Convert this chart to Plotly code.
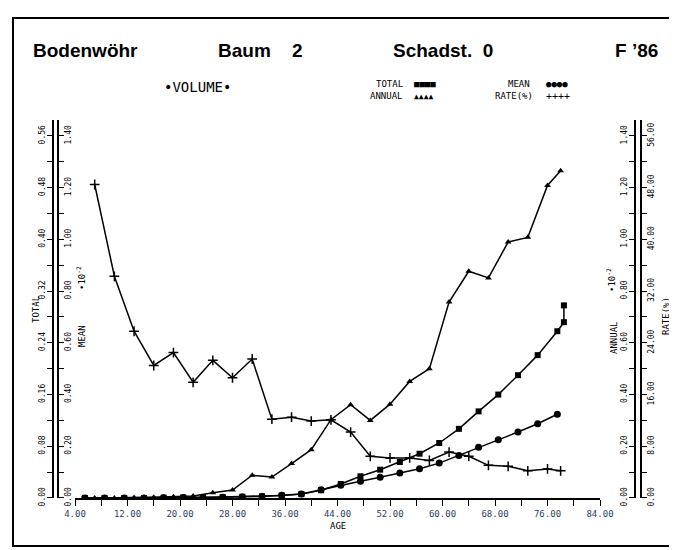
import plotly.graph_objects as go

# ages of the increment series (annual, rate) and of the stock series (total, mean)
age_incr = [7, 10, 13, 16, 19, 22, 25, 28, 31, 34, 37, 40, 43, 46, 49, 52, 55, 58,
            61, 64, 67, 70, 73, 76, 78]
age_stock = [5.5, 8.5, 11.5, 14.5, 17.5, 20.5, 23.5, 26.5, 29.5, 32.5, 35.5, 38.5,
             41.5, 44.5, 47.5, 50.5, 53.5, 56.5, 59.5, 62.5, 65.5, 68.5, 71.5, 74.5, 77.5]
age_total = age_stock + [78.5, 78.5]

total = [0.0, 0.0, 0.0, 0.0, 0.0005, 0.0008, 0.001, 0.0015, 0.002, 0.0025, 0.004,
         0.006, 0.012, 0.0217, 0.0336, 0.0438, 0.0557, 0.0685, 0.0851, 0.107, 0.134,
         0.160, 0.190, 0.221, 0.258, 0.272, 0.298]
mean = [0.0, 0.0, 0.0, 0.0005, 0.001, 0.0015, 0.002, 0.003, 0.004, 0.006, 0.0104,
        0.0155, 0.032, 0.049, 0.065, 0.080, 0.097, 0.113, 0.135, 0.164, 0.196, 0.225,
        0.255, 0.287, 0.324]
annual = [0.0, 0.0, 0.002, 0.003, 0.005, 0.008, 0.02, 0.031, 0.088, 0.081, 0.133,
          0.187, 0.303, 0.361, 0.300, 0.363, 0.451, 0.500, 0.758, 0.877, 0.851, 0.990,
          1.008, 1.209, 1.266]
rate = [48.5, 34.3, 25.8, 20.5, 22.5, 17.9, 21.3, 18.6, 21.5, 12.2, 12.5, 11.9, 12.1,
        10.2, 6.45, 6.2, 6.2, 5.8, 7.1, 6.45, 5.05, 4.9, 4.2, 4.5, 4.2]

W, H = 677, 550
mono = "DejaVu Sans Mono"


def px(x):
    return x / W


def py(y):
    return 1 - y / H


fig = go.Figure()

line = dict(color="black", width=1.5)
fig.add_trace(go.Scatter(x=age_total, y=total, yaxis="y", mode="lines+markers",
                         line=line, marker=dict(symbol="square", size=6, color="black")))
fig.add_trace(go.Scatter(x=age_stock, y=mean, yaxis="y2", mode="lines+markers",
                         line=line, marker=dict(symbol="circle", size=7, color="black")))
fig.add_trace(go.Scatter(x=age_incr, y=annual, yaxis="y3", mode="lines+markers",
                         line=line, marker=dict(symbol="triangle-up", size=6, color="black")))
fig.add_trace(go.Scatter(x=age_incr, y=rate, yaxis="y4", mode="lines+markers",
                         line=line,
                         marker=dict(symbol="cross-thin", size=7,
                                     line=dict(width=1.5, color="black"))))

ydom = [py(490), py(490 - 1.46 * (362 / 1.4))]
tickfont = dict(family=mono, size=8, color="black")


def yax(top, step, pos, side, standoff=0):
    return dict(range=[0, top * 1.46 / 1.4], domain=ydom, anchor="free", position=pos,
                side=side, showline=True, linecolor="black", linewidth=1.5,
                ticks="outside", ticklen=5, tickwidth=1.2, tickcolor="black",
                tick0=0, dtick=step, tickformat=".2f", tickangle=-90, tickfont=tickfont,
                ticklabelstandoff=standoff,
                minor=dict(ticks="outside", ticklen=5, tickwidth=1.2, tickcolor="black",
                           dtick=step / 2, tick0=0),
                showgrid=False, zeroline=False, automargin=False, fixedrange=True)


fig.update_layout(
    width=W, height=H,
    margin=dict(l=0, r=0, t=0, b=0),
    paper_bgcolor="white", plot_bgcolor="white",
    showlegend=False,
    xaxis=dict(range=[4, 84], domain=[px(67), px(592)], anchor="y",
               showline=True, linecolor="black", linewidth=1.5,
               ticks="outside", ticklen=6, tickwidth=1.2, tickcolor="black",
               tick0=4, dtick=8, tickformat=".2f", tickfont=dict(family=mono, size=9),
               minor=dict(ticks="outside", ticklen=6, tickwidth=1.2, tickcolor="black",
                          tick0=0, dtick=4),
               showgrid=False, zeroline=False, automargin=False),
    yaxis=yax(0.56, 0.08, px(45), "left", -1),
    yaxis2=dict(yax(1.4, 0.2, px(50), "right", -2), overlaying="y"),
    yaxis3=dict(yax(1.4, 0.2, px(627), "left", -1), overlaying="y"),
    yaxis4=dict(yax(56, 8, px(633), "right", -2), overlaying="y"),
)

# outer frame
fig.add_shape(type="rect", xref="paper", yref="paper",
              x0=px(5), x1=px(672), y0=py(538), y1=py(10),
              line=dict(color="black", width=2))

head = dict(family="Liberation Sans", size=19, color="black")
small = dict(family=mono, size=9, color="black")
sp = "\u00a0"
notes = [
    (23, 42, "<b>Bodenwöhr</b>", "left", head, 0),
    (208, 42, "<b>Baum" + sp * 4 + "2</b>", "left", head, 0),
    (383, 42, "<b>Schadst." + sp * 2 + "0</b>", "left", head, 0),
    (652, 42, "<b>F ’86</b>", "right", head, 0),
    (190, 79, "•VOLUME•", "center", dict(family=mono, size=14, color="black"), 0),
    (397, 76, "TOTAL", "right", small, 0),
    (397, 88, "ANNUAL", "right", small, 0),
    (524, 76, "MEAN", "right", small, 0),
    (527, 88, "RATE(%)", "right", small, 0),
    (404, 76, "■■■■", "left", dict(family=mono, size=9, color="black"), 0),
    (404, 88, "▲▲▲▲", "left", dict(family=mono, size=8, color="black"), 0),
    (536, 76, "●●●●", "left", dict(family=mono, size=9, color="black"), 0),
    (536, 88, "++++", "left", dict(family=mono, size=10, color="black"), 0),
    (330, 518, "AGE", "center", small, 0),
    (28, 302, "TOTAL", "center", small, -90),
    (74, 328, "MEAN", "center", small, -90),
    (73, 270, "•10<sup>-2</sup>", "center", small, -90),
    (606, 330, "ANNUAL", "center", small, -90),
    (603, 272, "•10<sup>-2</sup>", "center", small, -90),
    (658, 308, "RATE(%)", "center", small, -90),
]
for x, y, text, anchor, font, ang in notes:
    fig.add_annotation(x=px(x), y=py(y), xref="paper", yref="paper", text=text,
                       showarrow=False, xanchor=anchor, yanchor="middle",
                       font=font, textangle=ang)

fig.write_html("out.html")
